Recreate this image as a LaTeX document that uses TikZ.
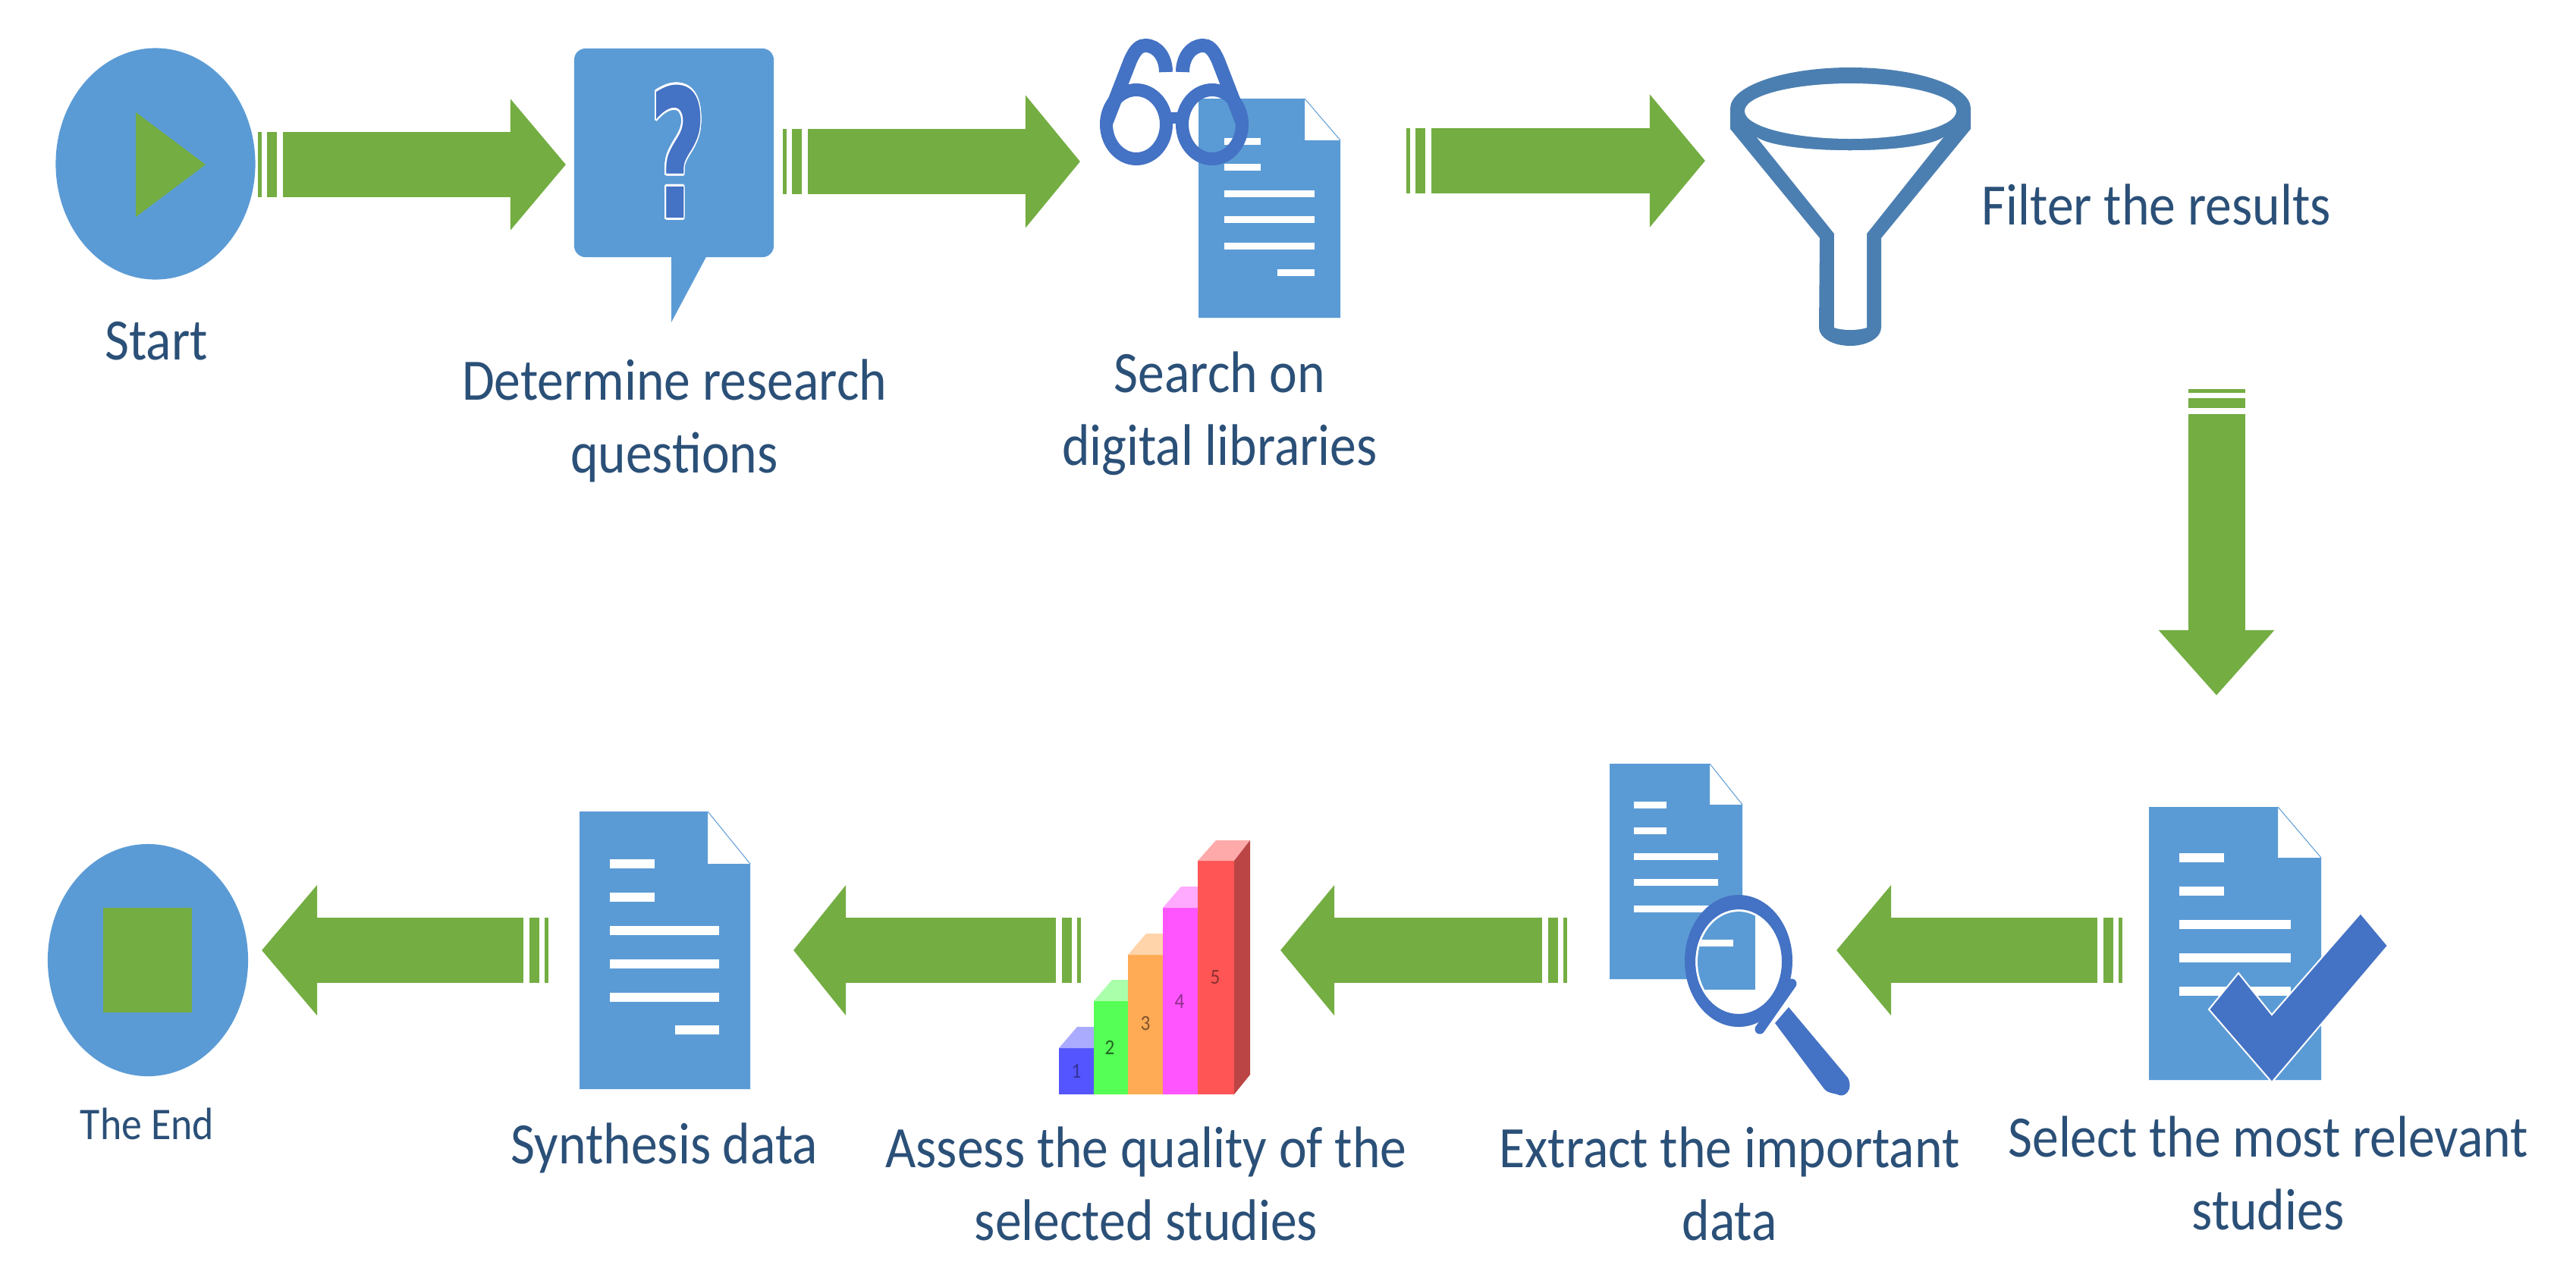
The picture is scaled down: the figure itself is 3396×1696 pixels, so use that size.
\documentclass[tikz,border=0pt]{standalone}
\usepackage{fontspec}
\usepackage[copies]{contour}
\setmainfont[FakeStretch=0.9]{Carlito}
\newfontfamily\markfont{DejaVu Sans}
\usetikzlibrary{arrows.meta, shapes.geometric}
\definecolor{iconblue}{HTML}{5B9BD5}
\definecolor{markblue}{HTML}{4472C4}
\definecolor{funnelblue}{HTML}{4C7FB1}
\definecolor{flowgreen}{HTML}{74AD42}
\definecolor{labelblue}{HTML}{2B5078}
\definecolor{barone}{HTML}{5555FF}
\definecolor{bartwo}{HTML}{55FF55}
\definecolor{barthree}{HTML}{FFAA55}
\definecolor{barfour}{HTML}{FF55FF}
\definecolor{barfive}{HTML}{FF5555}
\definecolor{barside}{HTML}{BB4444}
\contourlength{0.7pt}
\tikzset{
    blockarrow/.style n args={3}{flowgreen, line width=#1,
        -{Triangle[length=#2, width=#3]},
        dash pattern=on 0.05cm off 0.07cm on 0.13cm off 0.08cm on 60cm},
    label/.style={text=labelblue, align=center, anchor=base, inner sep=0pt,
        font=\fontsize{22}{27.3}\selectfont},
    docline/.style={white, line width=0.09cm},
    bigdocline/.style={white, line width=0.115cm},
    barnum/.style={font=\fontsize{8}{8}\selectfont, inner sep=0pt},
}
\begin{document}
\begin{tikzpicture}[x=0.01cm, y=-0.01cm]
    \useasboundingbox (0,0) rectangle (3396,1696);

    % start
    \node[ellipse, fill=iconblue, minimum width=2.63cm, minimum height=3.05cm, inner sep=0pt] (start) at (205,216) {};
    \fill[flowgreen] (179,148) -- (271,217) -- (179,286) -- cycle;
    \node[label] (startlabel) at (206,474) {Start};

    % question bubble
    \node[fill=iconblue, rounded corners=0.15cm, minimum width=2.63cm, minimum height=2.75cm, inner sep=0pt] (question) at (888.5,201.5) {};
    \fill[iconblue] (885,335) -- (933,335) -- (885,425) -- cycle;
    \node[inner sep=0pt, text=markblue] (qmark) at (894,201) {\scalebox{0.62}[1.12]{\fontsize{60}{60}\markfont\bfseries\contour{white}{?}}};
    \node[label] (questionlabel) at (889,623) {Determine research\\questions};

    % document and glasses
    \fill[iconblue] (1580,130) -- (1720,130) -- (1720,185) -- (1767,185) -- (1767,419) -- (1580,419) -- cycle;
    \draw[iconblue, line width=0.01cm] (1720,130) -- (1767,185);
    \draw[docline] (1614,186) -- (1662,186) (1614,220) -- (1662,220);
    \draw[docline] (1614,255) -- (1733,255) (1614,289) -- (1733,289) (1614,324) -- (1733,324);
    \draw[docline] (1684,359) -- (1733,359);
    \draw[markblue, line width=0.17cm] (1498,164) ellipse [x radius=39.5, y radius=45.5];
    \draw[markblue, line width=0.17cm] (1598,164) ellipse [x radius=39.5, y radius=45.5];
    \draw[markblue, line width=0.15cm] (1535,155) -- (1561,155);
    \draw[markblue, line width=0.18cm] (1459,160) -- (1490,80) .. controls (1497,64) and (1503,60) .. (1510,60) .. controls (1526,60) and (1537,76) .. (1537,95);
    \draw[markblue, line width=0.18cm] (1637,160) -- (1606,80) .. controls (1599,64) and (1593,60) .. (1586,60) .. controls (1570,60) and (1559,76) .. (1559,95);
    \node[label] (searchlabel) at (1608,613) {Search on\\digital libraries};

    % funnel
    \fill[funnelblue] (2281,170) -- (2281,143) arc[start angle=180, end angle=360, x radius=158.5, y radius=54] -- (2598,170) -- (2480,314) -- (2480,432) arc[start angle=0, end angle=180, x radius=41, y radius=24] -- (2399,314) -- cycle;
    \fill[white] (2316,181) .. controls (2350,204) and (2528,204) .. (2562,181) -- (2461,308) -- (2461,432) .. controls (2450,436) and (2429,436) .. (2418,432) -- (2418,308) -- cycle;
    \fill[white] (2439.5,146.5) ellipse [x radius=139.5, y radius=36.5];
    \node[label, anchor=base west] (filterlabel) at (2612,296) {Filter the results};

    % selected document with check mark
    \fill[iconblue] (2833,1064) -- (3003,1064) -- (3003,1131) -- (3060,1131) -- (3060,1424) -- (2833,1424) -- cycle;
    \draw[iconblue, line width=0.01cm] (3003,1064) -- (3060,1131);
    \draw[bigdocline] (2873,1131) -- (2932,1131) (2873,1175) -- (2932,1175);
    \draw[bigdocline] (2873,1219) -- (3020,1219) (2873,1263) -- (3020,1263) (2873,1307) -- (3020,1307);
    \filldraw[fill=markblue, draw=white, line width=0.02cm] (3112,1204) -- (3148,1247) -- (2995,1427) -- (2912,1331) -- (2951,1283) -- (2995,1338) -- cycle;
    \node[label] (selectlabel) at (2990,1621) {Select the most relevant\\studies};

    % document with magnifier
    \fill[iconblue] (2122,1007) -- (2254,1007) -- (2254,1061) -- (2297,1061) -- (2297,1291) -- (2122,1291) -- cycle;
    \draw[iconblue, line width=0.01cm] (2254,1007) -- (2297,1061);
    \draw[docline] (2154,1061) -- (2197,1061) (2154,1095) -- (2197,1095);
    \draw[docline] (2154,1129) -- (2265,1129) (2154,1163) -- (2265,1163) (2154,1198) -- (2265,1198);
    \fill[white] (2292,1268) ellipse [x radius=57, y radius=69];
    \begin{scope}
        \clip (2292,1268) ellipse [x radius=54, y radius=66];
        \fill[iconblue] (2222,1190) rectangle (2314,1305);
        \draw[docline] (2237,1243) -- (2285,1243);
    \end{scope}
    \fill[markblue, even odd rule] (2292,1267) ellipse [x radius=71, y radius=87] (2292,1268) ellipse [x radius=57, y radius=69];
    \draw[markblue, line width=0.13cm, line cap=round] (2362,1297) -- (2320,1357);
    \fill[markblue] (2340,1349) -- (2358,1328) -- (2436,1421) .. controls (2444,1436) and (2432,1449) .. (2422,1443) .. controls (2416,1441) and (2411,1442) .. (2405,1436) -- cycle;
    \node[label] (extractlabel) at (2280,1635) {Extract the important\\data};

    % bar chart
    \fill[barone] (1396,1382) rectangle (1442,1443);
    \fill[barone!50] (1396,1382) -- (1420,1354) -- (1466,1354) -- (1442,1382) -- cycle;
    \fill[bartwo] (1442,1320) rectangle (1487,1443);
    \fill[bartwo!50] (1442,1320) -- (1466,1292) -- (1511,1292) -- (1487,1320) -- cycle;
    \fill[barthree] (1487,1259) rectangle (1533,1443);
    \fill[barthree!50] (1487,1259) -- (1511,1231) -- (1557,1231) -- (1533,1259) -- cycle;
    \fill[barfour] (1533,1197) rectangle (1579,1443);
    \fill[barfour!50] (1533,1197) -- (1557,1169) -- (1603,1169) -- (1579,1197) -- cycle;
    \fill[barfive] (1579,1135) rectangle (1627,1443);
    \fill[barfive!50] (1579,1135) -- (1603,1108) -- (1648,1108) -- (1627,1135) -- cycle;
    \fill[barside] (1627,1135) -- (1648,1108) -- (1648,1417) -- (1627,1443) -- cycle;
    \node[barnum, text=barone!60!black] (numone) at (1419,1412) {1};
    \node[barnum, text=bartwo!40!black] (numtwo) at (1463,1381) {2};
    \node[barnum, text=barthree!50!black] (numthree) at (1510,1349) {3};
    \node[barnum, text=barfour!55!black] (numfour) at (1555,1320) {4};
    \node[barnum, text=barfive!55!black] (numfive) at (1602,1289) {5};
    \node[label] (assesslabel) at (1511,1635) {Assess the quality of the\\selected studies};

    % synthesis document
    \fill[iconblue] (764,1070) -- (933,1070) -- (933,1139) -- (989,1139) -- (989,1436) -- (764,1436) -- cycle;
    \draw[iconblue, line width=0.01cm] (933,1070) -- (989,1139);
    \draw[bigdocline] (804,1139) -- (863,1139) (804,1183) -- (863,1183);
    \draw[bigdocline] (804,1227) -- (948,1227) (804,1271) -- (948,1271) (804,1315) -- (948,1315);
    \draw[bigdocline] (890,1358) -- (948,1358);
    \node[label] (synthesislabel) at (876,1534) {Synthesis data};

    % end
    \node[ellipse, fill=iconblue, minimum width=2.64cm, minimum height=3.06cm, inner sep=0pt] (end) at (195,1266) {};
    \node[fill=flowgreen, minimum width=1.17cm, minimum height=1.38cm, inner sep=0pt] (stopmark) at (194.5,1266) {};
    \node[label, font=\fontsize{17}{20}\selectfont] (endlabel) at (194,1502) {The End};

    % connectors
    \coordinate (startout) at (340,217);
    \coordinate (questionin) at (746,217);
    \coordinate (questionout) at (1032,213);
    \coordinate (searchin) at (1424,213);
    \coordinate (searchout) at (1854,212);
    \coordinate (funnelin) at (2248,212);
    \coordinate (filterout) at (2922,513);
    \coordinate (selectin) at (2922,917);
    \coordinate (selectout) at (2798,1253);
    \coordinate (extractin) at (2421,1253);
    \coordinate (extractout) at (2066,1253);
    \coordinate (assessin) at (1688,1253);
    \coordinate (assessout) at (1425,1253);
    \coordinate (synthesisin) at (1046,1253);
    \coordinate (synthesisout) at (723,1253);
    \coordinate (endin) at (345,1253);
    \draw[blockarrow={0.86cm}{0.73cm}{1.69cm}] (startout) -- (questionin);
    \draw[blockarrow={0.86cm}{0.72cm}{1.71cm}] (questionout) -- (searchin);
    \draw[blockarrow={0.86cm}{0.73cm}{1.71cm}] (searchout) -- (funnelin);
    \draw[blockarrow={0.75cm}{0.86cm}{1.47cm}] (filterout) -- (selectin);
    \draw[blockarrow={0.85cm}{0.72cm}{1.68cm}] (selectout) -- (extractin);
    \draw[blockarrow={0.85cm}{0.71cm}{1.68cm}] (extractout) -- (assessin);
    \draw[blockarrow={0.85cm}{0.69cm}{1.68cm}] (assessout) -- (synthesisin);
    \draw[blockarrow={0.85cm}{0.73cm}{1.68cm}] (synthesisout) -- (endin);
\end{tikzpicture}
\end{document}
